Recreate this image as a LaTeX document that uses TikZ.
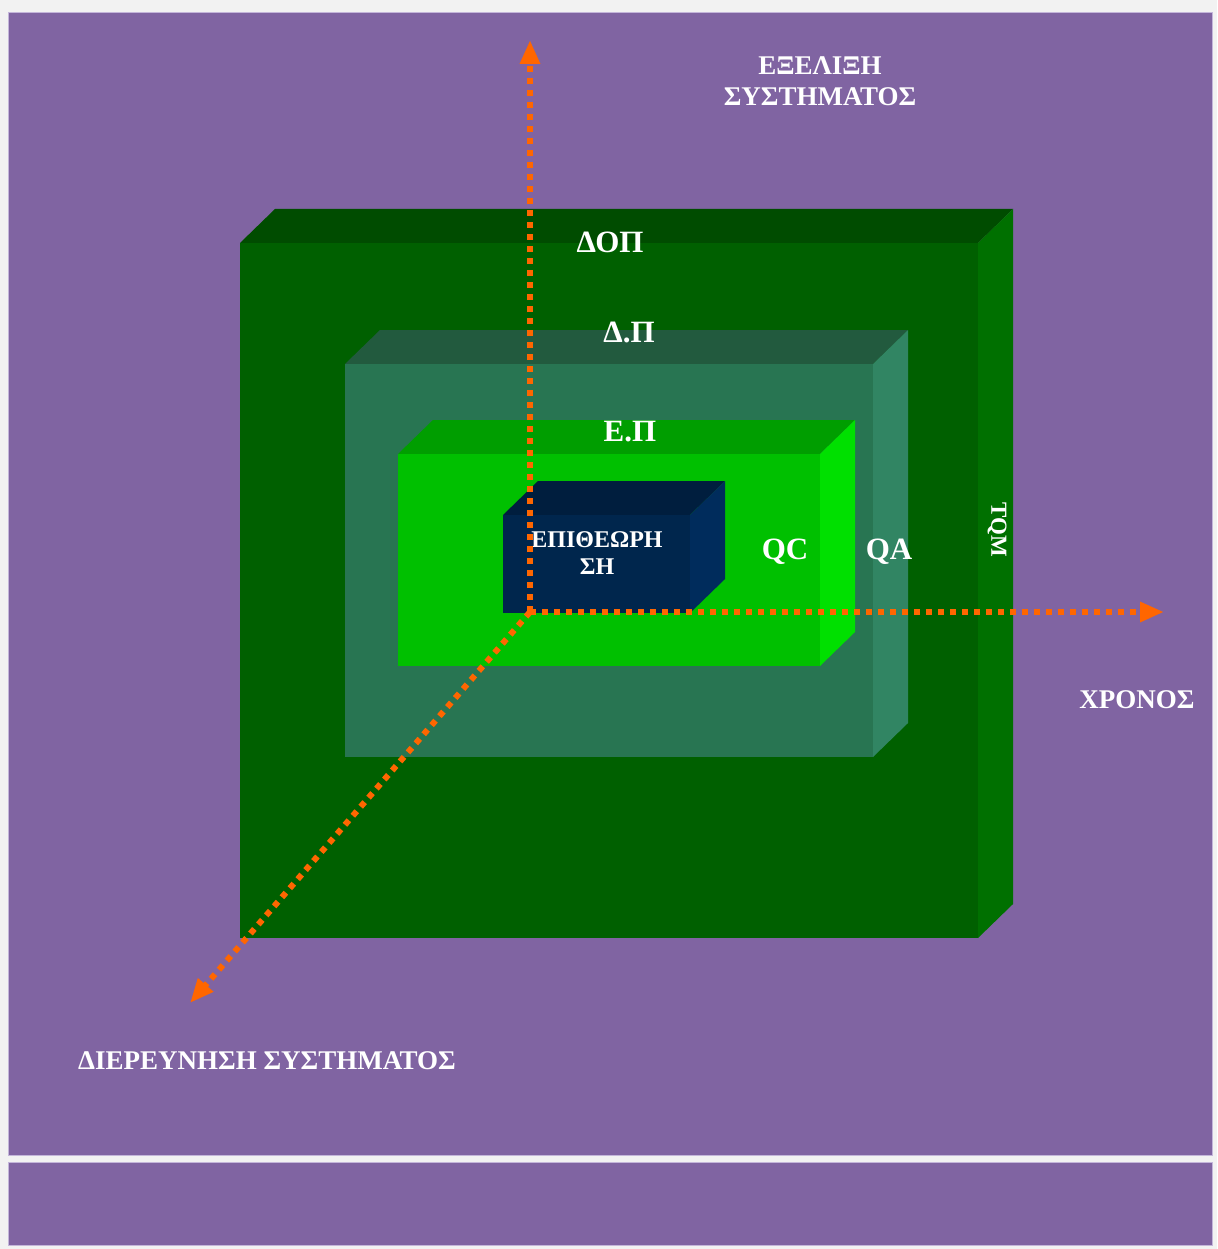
\documentclass[tikz,border=0pt]{standalone}
\usepackage{fontspec}
\setmainfont{Liberation Serif}
\usetikzlibrary{arrows.meta}

\definecolor{panel}{HTML}{8064A2}
\definecolor{paneledge}{HTML}{C4B6DA}
\definecolor{paper}{HTML}{F2F2F2}
\definecolor{axisorange}{HTML}{FF6600}

% layer colours: front, top, side
\definecolor{tqmfront}{HTML}{006000}
\definecolor{tqmtop}{HTML}{004C00}
\definecolor{tqmside}{HTML}{007000}
\definecolor{qafront}{HTML}{287552}
\definecolor{qatop}{HTML}{225A3E}
\definecolor{qaside}{HTML}{318563}
\definecolor{qcfront}{HTML}{00C000}
\definecolor{qctop}{HTML}{009E00}
\definecolor{qcside}{HTML}{00E000}
\definecolor{insfront}{HTML}{00264D}
\definecolor{instop}{HTML}{001E3E}
\definecolor{insside}{HTML}{002C5C}

% box: left, top, right, bottom, front, top, side
\newcommand{\layerbox}[7]{%
  \fill[#6] (#1,#2) -- ({#1+35},{#2-34}) -- ({#3+35},{#2-34}) -- (#3,#2) -- cycle;
  \fill[#7] (#3,#2) -- ({#3+35},{#2-34}) -- ({#3+35},{#4-34}) -- (#3,#4) -- cycle;
  \fill[#5] (#1,#2) rectangle (#3,#4);
}

\begin{document}
\begin{tikzpicture}[x=1pt,y=-1pt,
    lbl/.style={text=white,font=\bfseries\fontsize{27}{31}\selectfont,align=center,inner sep=0pt},
    biglbl/.style={lbl,font=\bfseries\fontsize{31}{33}\selectfont},
    axis/.style={axisorange,line width=6pt,dash pattern=on 6pt off 6pt,
      -{Triangle[length=24pt,width=19pt]}}]

  % background and panels
  \useasboundingbox (0,0) rectangle (1217,1249);
  \fill[paper] (0,0) rectangle (1217,1249);
  \filldraw[fill=panel,draw=paneledge,line width=1pt] (8,13) rectangle (1212,1155);
  \filldraw[fill=panel,draw=paneledge,line width=1pt] (8,1162) rectangle (1212,1245);

  % nested layers
  \layerbox{240}{243}{978}{938}{tqmfront}{tqmtop}{tqmside}
  \layerbox{345}{364}{873}{757}{qafront}{qatop}{qaside}
  \layerbox{398}{454}{820}{666}{qcfront}{qctop}{qcside}
  \layerbox{503}{515}{690}{613}{insfront}{instop}{insside}

  % labels
  \node[biglbl] (dop) at (610,242) {ΔΟΠ};
  \node[biglbl] (dp) at (629,332) {Δ.Π};
  \node[biglbl] (ep) at (630,432) {Ε.Π};
  \node[lbl,font=\bfseries\fontsize{24}{27}\selectfont] (insp) at (597,553) {ΕΠΙΘΕΩΡΗ\\ΣΗ};
  \node[biglbl] (qc) at (785,552) {QC};
  \node[biglbl] (qa) at (889,552) {QA};
  \node[lbl,font=\bfseries\fontsize{23}{26}\selectfont,rotate=-90] (tqm) at (997,530) {TQM};

  % axes
  \coordinate (origin) at (530,612);
  \coordinate (evol) at (530,40);
  \coordinate (time) at (1164,612);
  \coordinate (inv) at (190,1003);
  \draw[axis] (origin) -- (evol);
  \draw[axis] (origin) -- (time);
  \draw[axis] (origin) -- (inv);

  \node[lbl] (evollbl) at (820,81) {ΕΞΕΛΙΞΗ\\ΣΥΣΤΗΜΑΤΟΣ};
  \node[lbl] (timelbl) at (1137,700) {ΧΡΟΝΟΣ};
  \node[lbl] (invlbl) at (267,1061) {ΔΙΕΡΕΥΝΗΣΗ ΣΥΣΤΗΜΑΤΟΣ};

\end{tikzpicture}
\end{document}
